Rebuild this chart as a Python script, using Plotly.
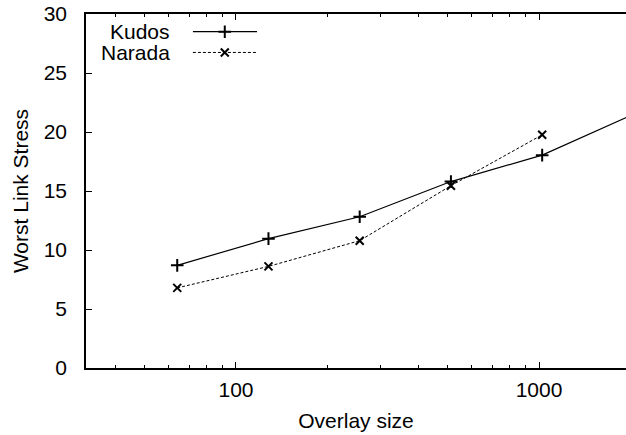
import math
import plotly.graph_objects as go

# ---- data ----
overlay_sizes = [64, 128, 256, 512, 1024, 2048]
kudos_stress = [8.70, 10.96, 12.82, 15.80, 18.04, 21.5]
narada_sizes = [64, 128, 256, 512, 1024]
narada_stress = [6.79, 8.61, 10.79, 15.45, 19.76]

series_names = ["Kudos", "Narada"]
y_ticks = [0, 5, 10, 15, 20, 25, 30]
x_major_ticks = [100, 1000]
x_minor_ticks = [40, 50, 60, 70, 80, 90, 200, 300, 400, 500, 600, 700, 800, 900, 2000]
x_range = [32, 1936]
y_range = [0, 30]

FONT = "Liberation Sans, Arial, Helvetica, sans-serif"
INK = "#000000"
FS = 21

plus_marker = dict(symbol="cross-thin", size=9, line=dict(color=INK, width=2))
x_marker = dict(symbol="x-thin", size=8, line=dict(color=INK, width=2))
kudos_line = dict(color=INK, width=1.2)
narada_line = dict(color=INK, width=1.0, dash="3px,2px")

fig = go.Figure()

fig.add_trace(go.Scatter(
    x=overlay_sizes, y=kudos_stress, mode="lines+markers", name=series_names[0],
    line=kudos_line, marker=plus_marker, showlegend=False,
))
fig.add_trace(go.Scatter(
    x=narada_sizes, y=narada_stress, mode="lines+markers", name=series_names[1],
    line=narada_line, marker=x_marker, showlegend=False,
))

# ---- custom gnuplot-style legend (text left of the sample) ----
leg_rows = [0.950, 0.8914]
leg_line_x = [0.198, 0.3167]
leg_mark_x = 0.257
leg_text_x = 0.160
styles = [(kudos_line, plus_marker), (narada_line, x_marker)]
for name, yy, (ln, mk) in zip(series_names, leg_rows, styles):
    fig.add_trace(go.Scatter(x=leg_line_x, y=[yy, yy], mode="lines", line=ln,
                             xaxis="x2", yaxis="y2", showlegend=False, hoverinfo="skip"))
    fig.add_trace(go.Scatter(x=[leg_mark_x], y=[yy], mode="markers", marker=mk,
                             xaxis="x2", yaxis="y2", showlegend=False, hoverinfo="skip"))
    fig.add_annotation(text=name, xref="x2", yref="y2", x=leg_text_x, y=yy,
                       xanchor="right", yanchor="middle", showarrow=False,
                       font=dict(family=FONT, size=FS, color=INK))

fig.update_layout(
    width=626, height=435,
    margin=dict(l=86, r=0, t=14, b=67),
    paper_bgcolor="white", plot_bgcolor="white",
    font=dict(family=FONT, size=FS, color=INK),
    xaxis=dict(
        type="log", range=[math.log10(x_range[0]), math.log10(x_range[1])],
        tickmode="array", tickvals=x_major_ticks, ticktext=[str(v) for v in x_major_ticks],
        ticks="inside", ticklen=6, tickwidth=1, tickcolor=INK,
        minor=dict(tickmode="array", tickvals=x_minor_ticks, ticks="inside", ticklen=3,
                   tickwidth=1, tickcolor=INK, showgrid=False),
        showline=True, linecolor=INK, linewidth=1.5, mirror="allticks",
        showgrid=False, zeroline=False,
        ticklabelstandoff=2,
        title=dict(text="Overlay size", standoff=13, font=dict(size=FS)),
        tickfont=dict(size=FS),
    ),
    yaxis=dict(
        range=y_range, tickmode="array", tickvals=y_ticks,
        ticks="inside", ticklen=6, tickwidth=1, tickcolor=INK,
        showline=True, linecolor=INK, linewidth=1.5, mirror=False,
        showgrid=False, zeroline=False,
        ticklabelstandoff=13,
        title=dict(text="Worst Link Stress", standoff=9, font=dict(size=FS)),
        tickfont=dict(size=FS),
    ),
    xaxis2=dict(domain=[0, 1], range=[0, 1], overlaying="x", anchor="y2",
                visible=False, fixedrange=True),
    yaxis2=dict(domain=[0, 1], range=[0, 1], overlaying="y", anchor="x2",
                visible=False, fixedrange=True),
)

fig.write_html("out.html")
